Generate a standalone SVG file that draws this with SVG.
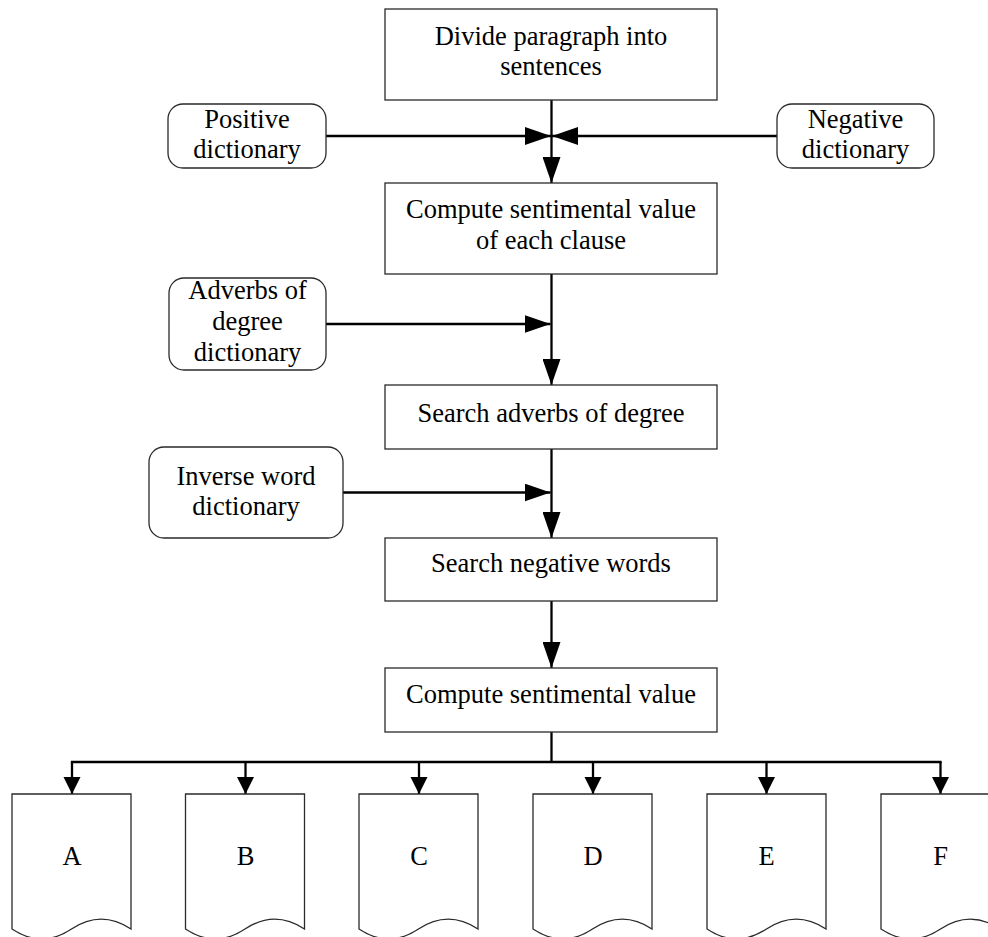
<svg xmlns="http://www.w3.org/2000/svg" width="988" height="937" viewBox="0 0 988 937">
<defs>
<marker id="ah" markerUnits="userSpaceOnUse" markerWidth="26" markerHeight="18" refX="26" refY="9" orient="auto"><path d="M0,0 L26,9 L0,18 Z" fill="#000"/></marker>
<marker id="ahs" markerUnits="userSpaceOnUse" markerWidth="17" markerHeight="18" refX="17" refY="9" orient="auto"><path d="M0,0.5 L17,9 L0,17.5 Z" fill="#000"/></marker>
<style>
.box{fill:#fff;stroke:#2a2a2a;stroke-width:1.3}
.t{font-family:"Liberation Serif","Times New Roman",serif;font-size:26.5px;fill:#000;text-anchor:middle}
.c{fill:none;stroke:#000;stroke-width:2.3}
</style>
</defs>
<rect width="988" height="937" fill="#fff"/>
<g id="connectors">
<line class="c" x1="551.5" y1="100" x2="551.5" y2="183" marker-end="url(#ah)"/>
<line class="c" x1="326" y1="136" x2="551" y2="136" marker-end="url(#ah)"/>
<line class="c" x1="777" y1="136" x2="552" y2="136" marker-end="url(#ah)"/>
<line class="c" x1="551.5" y1="274" x2="551.5" y2="385" marker-end="url(#ah)"/>
<line class="c" x1="326" y1="324" x2="550.5" y2="324" marker-end="url(#ah)"/>
<line class="c" x1="551.5" y1="449" x2="551.5" y2="538" marker-end="url(#ah)"/>
<line class="c" x1="343" y1="492.5" x2="550.5" y2="492.5" marker-end="url(#ah)"/>
<line class="c" x1="551.5" y1="601" x2="551.5" y2="668" marker-end="url(#ah)"/>
<line class="c" x1="551.5" y1="732" x2="551.5" y2="762"/>
<line class="c" x1="70.85" y1="762" x2="941.65" y2="762"/>
<line class="c" x1="72" y1="762" x2="72" y2="794" marker-end="url(#ahs)"/>
<line class="c" x1="245.5" y1="762" x2="245.5" y2="794" marker-end="url(#ahs)"/>
<line class="c" x1="419" y1="762" x2="419" y2="794" marker-end="url(#ahs)"/>
<line class="c" x1="593" y1="762" x2="593" y2="794" marker-end="url(#ahs)"/>
<line class="c" x1="766.5" y1="762" x2="766.5" y2="794" marker-end="url(#ahs)"/>
<line class="c" x1="940.5" y1="762" x2="940.5" y2="794" marker-end="url(#ahs)"/>
</g>
<g id="divide">
<rect class="box" x="385" y="9" width="332" height="91"/>
<text class="t" x="551" y="45">Divide paragraph into</text>
<text class="t" x="551" y="75">sentences</text>
</g>
<g id="positive">
<rect class="box" x="168" y="104" width="158" height="64" rx="15"/>
<text class="t" x="247" y="128">Positive</text>
<text class="t" x="247" y="158">dictionary</text>
</g>
<g id="negative">
<rect class="box" x="777" y="104" width="157" height="64" rx="15"/>
<text class="t" x="855.5" y="128">Negative</text>
<text class="t" x="855.5" y="158">dictionary</text>
</g>
<g id="compute-clause">
<rect class="box" x="385" y="183" width="332" height="91"/>
<text class="t" x="551" y="218">Compute sentimental value</text>
<text class="t" x="551" y="249">of each clause</text>
</g>
<g id="adverbs-dict">
<rect class="box" x="169" y="278" width="157" height="92" rx="15"/>
<text class="t" x="247.5" y="299">Adverbs of</text>
<text class="t" x="247.5" y="330">degree</text>
<text class="t" x="247.5" y="361">dictionary</text>
</g>
<g id="search-adverbs">
<rect class="box" x="385" y="385" width="332" height="64"/>
<text class="t" x="551" y="422">Search adverbs of degree</text>
</g>
<g id="inverse-dict">
<rect class="box" x="149" y="447" width="194" height="91" rx="15"/>
<text class="t" x="246" y="485">Inverse word</text>
<text class="t" x="246" y="515">dictionary</text>
</g>
<g id="search-negative">
<rect class="box" x="385" y="538" width="332" height="63"/>
<text class="t" x="551" y="572">Search negative words</text>
</g>
<g id="compute-value">
<rect class="box" x="385" y="668" width="332" height="64"/>
<text class="t" x="551" y="703">Compute sentimental value</text>
</g>
<g id="doc-a">
<path class="box" d="M12,794 H131 V929 C111,915.7 91.5,915.7 71.5,929 C51.5,942.3 32,942.3 12,929 Z"/>
<text class="t" x="72" y="865">A</text>
</g>
<g id="doc-b">
<path class="box" d="M185.5,794 H304.5 V929 C284.5,915.7 265,915.7 245,929 C225,942.3 205.5,942.3 185.5,929 Z"/>
<text class="t" x="245.5" y="865">B</text>
</g>
<g id="doc-c">
<path class="box" d="M359,794 H478 V929 C458,915.7 438.5,915.7 418.5,929 C398.5,942.3 379,942.3 359,929 Z"/>
<text class="t" x="419" y="865">C</text>
</g>
<g id="doc-d">
<path class="box" d="M533,794 H652 V929 C632,915.7 612.5,915.7 592.5,929 C572.5,942.3 553,942.3 533,929 Z"/>
<text class="t" x="593" y="865">D</text>
</g>
<g id="doc-e">
<path class="box" d="M707,794 H826 V929 C806,915.7 786.5,915.7 766.5,929 C746.5,942.3 727,942.3 707,929 Z"/>
<text class="t" x="766.5" y="865">E</text>
</g>
<g id="doc-f">
<path class="box" d="M881,794 H1000 V929 C980,915.7 960.5,915.7 940.5,929 C920.5,942.3 901,942.3 881,929 Z"/>
<text class="t" x="940.5" y="865">F</text>
</g>
</svg>
